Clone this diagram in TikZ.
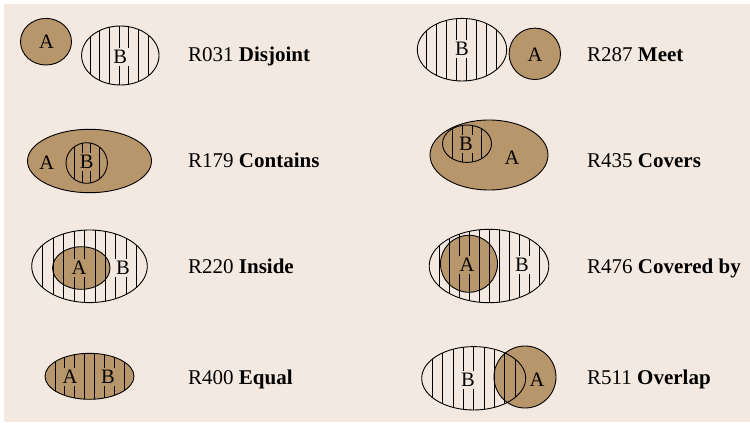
\documentclass[tikz,border=0pt]{standalone}
\usepackage{fontspec}
\setmainfont{Liberation Serif}
\definecolor{paper}{RGB}{243,233,224}
\definecolor{sand}{RGB}{184,150,107}

% vertical hatching clipped to an ellipse:
% #1,#2 centre, #3,#4 radii, #5 first x, #6 second x, #7 last x
\newcommand\vhatch[7]{%
  \begin{scope}
    \clip (#1,#2) ellipse [x radius=#3pt, y radius=#4pt];
    \foreach \hx in {#5,#6,...,#7}
      \draw[hatchline] (\hx,#2-#4-2) -- (\hx,#2+#4+2);
  \end{scope}}

\begin{document}
\begin{tikzpicture}[x=1pt,y=-1pt,
  outline/.style={draw=black,line width=0.9pt},
  region/.style={fill=sand},
  hatchline/.style={draw=black,line width=0.85pt},
  letter/.style={font=\fontsize{20.5}{24}\selectfont,inner sep=2.5pt},
  onpaper/.style={letter,fill=paper},
  onsand/.style={letter,fill=sand},
  caption/.style={font=\fontsize{21}{24}\selectfont,anchor=base west,inner sep=0pt}]
\useasboundingbox (0,0) rectangle (750,423);
\fill[white] (0,0) rectangle (750,423);
\fill[paper] (4,4) rectangle (749.5,421.5);

% ---------- R031 Disjoint ----------
\fill[region] (46,41.7) ellipse [x radius=25.5pt, y radius=23.3pt];
\vhatch{120.3}{55.5}{38.7}{29.5}{90}{99.7}{149}
\node[letter]  (dA) at (46.5,42) {A};
\node[onpaper] (dB) at (120.3,57) {B};
\draw[outline] (46,41.7) ellipse [x radius=25.5pt, y radius=23.3pt];
\draw[outline] (120.3,55.5) ellipse [x radius=38.7pt, y radius=29.5pt];
\node[caption] (dT) at (188,61) {R031 \textbf{Disjoint}};

% ---------- R287 Meet ----------
\vhatch{462}{49.7}{44.7}{31.3}{426.7}{436.7}{497}
\fill[region] (534.8,53.8) circle [radius=25.7pt];
\node[onpaper] (mB) at (462,49) {B};
\node[letter]  (mA) at (535,55) {A};
\draw[outline] (462,49.7) ellipse [x radius=44.7pt, y radius=31.3pt];
\draw[outline] (534.8,53.8) circle [radius=25.7pt];
\node[caption] (mT) at (587,61) {R287 \textbf{Meet}};

% ---------- R179 Contains ----------
\fill[region] (89.5,161) ellipse [x radius=62pt, y radius=31.7pt];
\vhatch{86.7}{163}{20.7}{20.3}{74}{82.4}{100}
\node[letter] (cA) at (46.7,163) {A};
\node[onsand] (cB) at (86.7,162) {B};
\draw[outline] (89.5,161) ellipse [x radius=62pt, y radius=31.7pt];
\draw[outline] (86.7,163) ellipse [x radius=20.7pt, y radius=20.3pt];
\node[caption] (cT) at (188,167.5) {R179 \textbf{Contains}};

% ---------- R435 Covers ----------
\fill[region] (489,155) ellipse [x radius=59pt, y radius=35pt];
\vhatch{467}{143.7}{24.5}{18.7}{452.7}{462.4}{482}
\node[onsand] (vB) at (466,144) {B};
\node[letter] (vA) at (512,158) {A};
\draw[outline] (489,155) ellipse [x radius=59pt, y radius=35pt];
\draw[outline] (467,143.7) ellipse [x radius=24.5pt, y radius=18.7pt];
\node[caption] (vT) at (587,167.5) {R435 \textbf{Covers}};

% ---------- R220 Inside ----------
\fill[region] (81.3,268) ellipse [x radius=28.7pt, y radius=21.3pt];
\vhatch{89.5}{266.3}{57.8}{36.3}{42.7}{53.15}{137}
\node[onsand]  (iA) at (79,268) {A};
\node[onpaper] (iB) at (123,268) {B};
\draw[outline] (89.5,266.3) ellipse [x radius=57.8pt, y radius=36.3pt];
\draw[outline] (81.3,268) ellipse [x radius=28.7pt, y radius=21.3pt];
\node[caption] (iT) at (188,273) {R220 \textbf{Inside}};

% ---------- R476 Covered by ----------
\fill[region] (469,263.8) circle [radius=28.5pt];
\vhatch{489}{266}{59.8}{36.7}{439.3}{449.3}{540}
\node[onsand]  (bA) at (467,265) {A};
\node[onpaper] (bB) at (522,265) {B};
\draw[outline] (489,266) ellipse [x radius=59.8pt, y radius=36.7pt];
\draw[outline] (469,263.8) circle [radius=28.5pt];
\node[caption] (bT) at (587,273) {R476 \textbf{Covered by}};

% ---------- R400 Equal ----------
\fill[region] (89.5,376.3) ellipse [x radius=44.5pt, y radius=23pt];
\vhatch{89.5}{376.3}{44.5}{23}{55}{64.85}{124.5}
\node[onsand] (eA) at (70,377) {A};
\node[onsand] (eB) at (108,377) {B};
\draw[outline] (89.5,376.3) ellipse [x radius=44.5pt, y radius=23pt];
\node[caption] (eT) at (188,384.5) {R400 \textbf{Equal}};

% ---------- R511 Overlap ----------
\fill[region] (525,377) circle [radius=31pt];
\vhatch{473.7}{378.3}{52}{31.7}{432.3}{442.65}{516}
\node[onpaper] (oB) at (468,380) {B};
\node[letter]  (oA) at (537,380) {A};
\draw[outline] (473.7,378.3) ellipse [x radius=52pt, y radius=31.7pt];
\draw[outline] (525,377) circle [radius=31pt];
\node[caption] (oT) at (587,384.5) {R511 \textbf{Overlap}};
\end{tikzpicture}
\end{document}
